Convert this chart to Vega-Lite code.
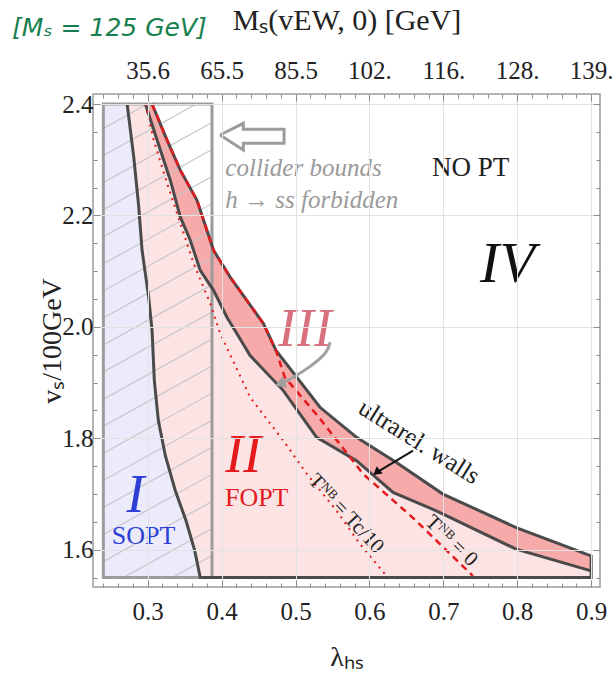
{
  "$schema": "https://vega.github.io/schema/vega-lite/v6.json",
  "width": 507,
  "height": 493,
  "autosize": "none",
  "padding": {"left": 93, "top": 94, "right": 15, "bottom": 92},
  "background": "white",
  "datasets": {
    "upperArea": [
      {"x": 0.24, "y": 2.4}, {"x": 0.3059, "y": 2.4}, {"x": 0.3262, "y": 2.3353}, {"x": 0.3441, "y": 2.2813},
      {"x": 0.3667, "y": 2.2273}, {"x": 0.3891, "y": 2.1374}, {"x": 0.4116, "y": 2.0894}, {"x": 0.4341, "y": 2.0475},
      {"x": 0.4565, "y": 2.0061}, {"x": 0.4736, "y": 1.9576}, {"x": 0.5331, "y": 1.8556}, {"x": 0.5826, "y": 1.8016},
      {"x": 0.6366, "y": 1.7566}, {"x": 0.6995, "y": 1.6998}, {"x": 0.7985, "y": 1.6397}, {"x": 0.8704, "y": 1.6038},
      {"x": 0.9, "y": 1.5888}
    ],
    "lowerArea": [
      {"x": 0.24, "y": 2.4}, {"x": 0.2969, "y": 2.4}, {"x": 0.3127, "y": 2.3353}, {"x": 0.3306, "y": 2.2633},
      {"x": 0.3441, "y": 2.1973}, {"x": 0.3576, "y": 2.1554}, {"x": 0.3711, "y": 2.1014}, {"x": 0.3891, "y": 2.0655},
      {"x": 0.4072, "y": 2.0174}, {"x": 0.4206, "y": 1.9881}, {"x": 0.4386, "y": 1.9486}, {"x": 0.4835, "y": 1.8856},
      {"x": 0.5286, "y": 1.8016}, {"x": 0.5826, "y": 1.7597}, {"x": 0.632, "y": 1.7027}, {"x": 0.6906, "y": 1.6698},
      {"x": 0.7985, "y": 1.6009}, {"x": 0.9, "y": 1.5619}
    ],
    "curveI": [
      {"x": 0.2722, "y": 2.4}, {"x": 0.2811, "y": 2.3052}, {"x": 0.2879, "y": 2.2153}, {"x": 0.2924, "y": 2.1374},
      {"x": 0.3013, "y": 2.0534}, {"x": 0.3059, "y": 1.9935}, {"x": 0.309, "y": 1.9036}, {"x": 0.3144, "y": 1.8317},
      {"x": 0.3239, "y": 1.7687}, {"x": 0.3374, "y": 1.7058}, {"x": 0.3519, "y": 1.6518}, {"x": 0.3637, "y": 1.5978},
      {"x": 0.3711, "y": 1.55}
    ],
    "outline": [
      {"o": 1, "x": 0.2722, "y": 2.4}, {"o": 2, "x": 0.2811, "y": 2.3052}, {"o": 3, "x": 0.2879, "y": 2.2153},
      {"o": 4, "x": 0.2924, "y": 2.1374}, {"o": 5, "x": 0.3013, "y": 2.0534}, {"o": 6, "x": 0.3059, "y": 1.9935},
      {"o": 7, "x": 0.309, "y": 1.9036}, {"o": 8, "x": 0.3144, "y": 1.8317}, {"o": 9, "x": 0.3239, "y": 1.7687},
      {"o": 10, "x": 0.3374, "y": 1.7058}, {"o": 11, "x": 0.3519, "y": 1.6518}, {"o": 12, "x": 0.3637, "y": 1.5978},
      {"o": 13, "x": 0.3711, "y": 1.55}, {"o": 14, "x": 0.9, "y": 1.55}, {"o": 15, "x": 0.9, "y": 1.5888},
      {"o": 16, "x": 0.8704, "y": 1.6038}, {"o": 17, "x": 0.7985, "y": 1.6397}, {"o": 18, "x": 0.6995, "y": 1.6998},
      {"o": 19, "x": 0.6366, "y": 1.7566}, {"o": 20, "x": 0.5826, "y": 1.8016}, {"o": 21, "x": 0.5331, "y": 1.8556},
      {"o": 22, "x": 0.4736, "y": 1.9576}, {"o": 23, "x": 0.4565, "y": 2.0061}, {"o": 24, "x": 0.4341, "y": 2.0475},
      {"o": 25, "x": 0.4116, "y": 2.0894}, {"o": 26, "x": 0.3891, "y": 2.1374}, {"o": 27, "x": 0.3667, "y": 2.2273},
      {"o": 28, "x": 0.3441, "y": 2.2813}, {"o": 29, "x": 0.3262, "y": 2.3353}, {"o": 30, "x": 0.3059, "y": 2.4}
    ],
    "dashed": [
      {"x": 0.3059, "y": 2.4}, {"x": 0.3262, "y": 2.3353}, {"x": 0.3441, "y": 2.2813}, {"x": 0.3667, "y": 2.2273},
      {"x": 0.3891, "y": 2.1374}, {"x": 0.4116, "y": 2.0894}, {"x": 0.4341, "y": 2.0475}, {"x": 0.4565, "y": 2.0061},
      {"x": 0.4736, "y": 1.9576}, {"x": 0.4855, "y": 1.9095}, {"x": 0.5331, "y": 1.8353}, {"x": 0.5915, "y": 1.7358},
      {"x": 0.6589, "y": 1.6572}, {"x": 0.74, "y": 1.5529}
    ],
    "dotted": [
      {"x": 0.2969, "y": 2.4}, {"x": 0.3081, "y": 2.3353}, {"x": 0.3262, "y": 2.2579}, {"x": 0.3441, "y": 2.186},
      {"x": 0.3621, "y": 2.114}, {"x": 0.3846, "y": 2.0421}, {"x": 0.3981, "y": 1.9881}, {"x": 0.4386, "y": 1.8736},
      {"x": 0.4835, "y": 1.7957}, {"x": 0.5151, "y": 1.7363}, {"x": 0.5556, "y": 1.6698}, {"x": 0.587, "y": 1.6104},
      {"x": 0.6231, "y": 1.5529}
    ],
    "hatch": [
      {"x": 0.3334, "y": 1.55, "x2": 0.387, "y2": 1.5894},
      {"x": 0.2672, "y": 1.55, "x2": 0.387, "y2": 1.638},
      {"x": 0.24, "y": 1.5786, "x2": 0.387, "y2": 1.6866},
      {"x": 0.24, "y": 1.6272, "x2": 0.387, "y2": 1.7352},
      {"x": 0.24, "y": 1.6758, "x2": 0.387, "y2": 1.7838},
      {"x": 0.24, "y": 1.7244, "x2": 0.387, "y2": 1.8324},
      {"x": 0.24, "y": 1.773, "x2": 0.387, "y2": 1.881},
      {"x": 0.24, "y": 1.8216, "x2": 0.387, "y2": 1.9296},
      {"x": 0.24, "y": 1.8702, "x2": 0.387, "y2": 1.9782},
      {"x": 0.24, "y": 1.9188, "x2": 0.387, "y2": 2.0268},
      {"x": 0.24, "y": 1.9674, "x2": 0.387, "y2": 2.0754},
      {"x": 0.24, "y": 2.016, "x2": 0.387, "y2": 2.124},
      {"x": 0.24, "y": 2.0646, "x2": 0.387, "y2": 2.1726},
      {"x": 0.24, "y": 2.1132, "x2": 0.387, "y2": 2.2212},
      {"x": 0.24, "y": 2.1618, "x2": 0.387, "y2": 2.2698},
      {"x": 0.24, "y": 2.2104, "x2": 0.387, "y2": 2.3184},
      {"x": 0.24, "y": 2.259, "x2": 0.387, "y2": 2.367},
      {"x": 0.24, "y": 2.3076, "x2": 0.3658, "y2": 2.4},
      {"x": 0.24, "y": 2.3562, "x2": 0.2996, "y2": 2.4}
    ],
    "bigArrow": [
      {"o": 1, "x": 0.3979, "y": 2.3444}, {"o": 2, "x": 0.4294, "y": 2.3654}, {"o": 3, "x": 0.4294, "y": 2.3546},
      {"o": 4, "x": 0.4845, "y": 2.3546}, {"o": 5, "x": 0.4845, "y": 2.3295}, {"o": 6, "x": 0.4294, "y": 2.3295},
      {"o": 7, "x": 0.4294, "y": 2.3175}, {"o": 8, "x": 0.3979, "y": 2.3444}
    ],
    "grayCurl": [
      {"o": 1, "x": 0.5466, "y": 1.9725}, {"o": 2, "x": 0.5439, "y": 1.9545}, {"o": 3, "x": 0.5196, "y": 1.9275},
      {"o": 4, "x": 0.497, "y": 1.9095}, {"o": 5, "x": 0.4835, "y": 1.9}
    ],
    "blackArrow": [
      {"o": 1, "x": 0.659, "y": 1.7777}, {"o": 2, "x": 0.614, "y": 1.742}
    ]
  },
  "layer": [
    {
      "data": {"name": "upperArea"},
      "mark": {"type": "area", "color": "#f7aaaa", "interpolate": "linear"},
      "encoding": {
        "x": {
          "field": "x", "type": "quantitative",
          "scale": {"domain": [0.226, 0.912], "nice": false, "zero": false},
          "axis": {
            "orient": "bottom", "zindex": 1,
            "values": [0.24,0.26,0.28,0.3,0.32,0.34,0.36,0.38,0.4,0.42,0.44,0.46,0.48,0.5,0.52,0.54,0.56,0.58,0.6,0.62,0.64,0.66,0.68,0.7,0.72,0.74,0.76,0.78,0.8,0.82,0.84,0.86,0.88,0.9],
            "labelExpr": "abs(datum.value*10-round(datum.value*10))<0.001 ? format(datum.value,'.1f') : ''",
            "tickSize": {"condition": {"test": "abs(datum.value*10-round(datum.value*10))<0.001", "value": -7}, "value": -4},
            "grid": true,
            "gridOpacity": {"condition": {"test": "abs(datum.value*10-round(datum.value*10))<0.001", "value": 1}, "value": 0},
            "labelPadding": 19,
            "title": "λₕₛ", "titlePadding": 16
          }
        },
        "y": {
          "field": "y", "type": "quantitative",
          "scale": {"domain": [1.533, 2.418], "nice": false, "zero": false},
          "axis": {
            "orient": "left", "zindex": 1,
            "values": [1.55,1.6,1.65,1.7,1.75,1.8,1.85,1.9,1.95,2.0,2.05,2.1,2.15,2.2,2.25,2.3,2.35,2.4],
            "labelExpr": "abs(datum.value*5-round(datum.value*5))<0.001 ? format(datum.value,'.1f') : ''",
            "tickSize": {"condition": {"test": "abs(datum.value*5-round(datum.value*5))<0.001", "value": -7}, "value": -4},
            "grid": true,
            "gridOpacity": {"condition": {"test": "abs(datum.value*5-round(datum.value*5))<0.001", "value": 1}, "value": 0},
            "labelPadding": 7,
            "title": "vₛ/100GeV", "titlePadding": -5
          }
        },
        "y2": {"datum": 1.55}
      }
    },
    {
      "data": {"name": "lowerArea"},
      "mark": {"type": "area", "color": "#fde4e4", "interpolate": "linear"},
      "encoding": {
        "x": {
          "field": "x", "type": "quantitative",
          "scale": {"domain": [0.226, 0.912], "nice": false, "zero": false},
          "axis": {
            "orient": "top", "zindex": 1,
            "values": [0.24,0.26,0.28,0.3,0.32,0.34,0.36,0.38,0.4,0.42,0.44,0.46,0.48,0.5,0.52,0.54,0.56,0.58,0.6,0.62,0.64,0.66,0.68,0.7,0.72,0.74,0.76,0.78,0.8,0.82,0.84,0.86,0.88,0.9],
            "labelExpr": "abs(datum.value*10-round(datum.value*10))<0.001 ? ['','','','35.6','65.5','85.5','102.','116.','128.','139.'][round(datum.value*10)] : ''",
            "tickSize": {"condition": {"test": "abs(datum.value*10-round(datum.value*10))<0.001", "value": -7}, "value": -4},
            "grid": false,
            "labelPadding": 18,
            "title": "Mₛ(vEW, 0) [GeV]", "titlePadding": 20, "titleFontSize": 30
          }
        },
        "y": {
          "field": "y", "type": "quantitative",
          "scale": {"domain": [1.533, 2.418], "nice": false, "zero": false},
          "axis": {
            "orient": "right", "zindex": 1,
            "values": [1.55,1.6,1.65,1.7,1.75,1.8,1.85,1.9,1.95,2.0,2.05,2.1,2.15,2.2,2.25,2.3,2.35,2.4],
            "labels": false,
            "tickSize": {"condition": {"test": "abs(datum.value*5-round(datum.value*5))<0.001", "value": -7}, "value": -4},
            "grid": false,
            "title": null
          }
        },
        "y2": {"datum": 1.55}
      }
    },
    {
      "data": {"name": "curveI"},
      "mark": {"type": "area", "orient": "horizontal", "color": "#ebebfb", "interpolate": "linear"},
      "encoding": {
        "y": {"field": "y", "type": "quantitative", "axis": null},
        "x": {"field": "x", "type": "quantitative", "axis": null},
        "x2": {"datum": 0.24}
      }
    },
    {
      "data": {"name": "hatch"},
      "mark": {"type": "rule", "color": "#c4c4c4", "strokeWidth": 1.1},
      "encoding": {
        "x": {"field": "x", "type": "quantitative", "axis": null},
        "y": {"field": "y", "type": "quantitative", "axis": null},
        "x2": {"field": "x2"},
        "y2": {"field": "y2"}
      }
    },
    {
      "data": {"values": [{"x": 0.24, "x2": 0.387, "y": 1.55, "y2": 2.4}]},
      "mark": {"type": "rect", "fill": null, "fillOpacity": 0, "stroke": "#9c9c9c", "strokeWidth": 3},
      "encoding": {
        "x": {"field": "x", "type": "quantitative", "axis": null},
        "x2": {"field": "x2"},
        "y": {"field": "y", "type": "quantitative", "axis": null},
        "y2": {"field": "y2"}
      }
    },
    {
      "data": {"name": "outline"},
      "mark": {"type": "line", "color": "#4a4a4a", "strokeWidth": 3, "strokeJoin": "miter"},
      "encoding": {
        "x": {"field": "x", "type": "quantitative", "axis": null},
        "y": {"field": "y", "type": "quantitative", "axis": null},
        "order": {"field": "o"}
      }
    },
    {
      "data": {"name": "lowerArea"},
      "transform": [{"filter": "datum.x > 0.25"}],
      "mark": {"type": "line", "color": "#4a4a4a", "strokeWidth": 3},
      "encoding": {
        "x": {"field": "x", "type": "quantitative", "axis": null},
        "y": {"field": "y", "type": "quantitative", "axis": null}
      }
    },
    {
      "data": {"name": "dashed"},
      "mark": {"type": "line", "color": "#e41a1c", "strokeWidth": 2.5, "strokeDash": [7, 5]},
      "encoding": {
        "x": {"field": "x", "type": "quantitative", "axis": null},
        "y": {"field": "y", "type": "quantitative", "axis": null}
      }
    },
    {
      "data": {"name": "dotted"},
      "mark": {"type": "line", "color": "#e41a1c", "strokeWidth": 2, "strokeDash": [2, 5]},
      "encoding": {
        "x": {"field": "x", "type": "quantitative", "axis": null},
        "y": {"field": "y", "type": "quantitative", "axis": null}
      }
    },
    {
      "data": {"name": "bigArrow"},
      "mark": {"type": "line", "color": "#9c9c9c", "strokeWidth": 3, "strokeJoin": "miter"},
      "encoding": {
        "x": {"field": "x", "type": "quantitative", "axis": null},
        "y": {"field": "y", "type": "quantitative", "axis": null},
        "order": {"field": "o"}
      }
    },
    {
      "data": {"name": "grayCurl"},
      "mark": {"type": "line", "color": "#a0a0a0", "strokeWidth": 3, "interpolate": "basis"},
      "encoding": {
        "x": {"field": "x", "type": "quantitative", "axis": null},
        "y": {"field": "y", "type": "quantitative", "axis": null},
        "order": {"field": "o"}
      }
    },
    {
      "data": {"values": [{"x": 0.4791, "y": 1.8977}]},
      "mark": {"type": "point", "shape": "triangle-up", "filled": true, "color": "#a0a0a0", "size": 150, "angle": 250, "opacity": 1},
      "encoding": {
        "x": {"field": "x", "type": "quantitative", "axis": null},
        "y": {"field": "y", "type": "quantitative", "axis": null}
      }
    },
    {
      "data": {"name": "blackArrow"},
      "mark": {"type": "line", "color": "#111", "strokeWidth": 2},
      "encoding": {
        "x": {"field": "x", "type": "quantitative", "axis": null},
        "y": {"field": "y", "type": "quantitative", "axis": null},
        "order": {"field": "o"}
      }
    },
    {
      "data": {"values": [{"x": 0.6096, "y": 1.7387}]},
      "mark": {"type": "point", "shape": "triangle-up", "filled": true, "color": "#111", "size": 90, "angle": 231, "opacity": 1},
      "encoding": {
        "x": {"field": "x", "type": "quantitative", "axis": null},
        "y": {"field": "y", "type": "quantitative", "axis": null}
      }
    },
    {
      "data": {"values": [{"x": 0.2834, "y": 1.6968, "t": "I"}]},
      "mark": {"type": "text", "font": "Liberation Serif", "fontStyle": "italic", "fontSize": 54, "color": "#2b3fd6", "baseline": "middle"},
      "encoding": {
        "x": {"field": "x", "type": "quantitative", "axis": null},
        "y": {"field": "y", "type": "quantitative", "axis": null},
        "text": {"field": "t"}
      }
    },
    {
      "data": {"values": [{"x": 0.2943, "y": 1.6248, "t": "SOPT"}]},
      "mark": {"type": "text", "font": "Liberation Serif", "fontSize": 26, "color": "#2b3fd6", "baseline": "middle"},
      "encoding": {
        "x": {"field": "x", "type": "quantitative", "axis": null},
        "y": {"field": "y", "type": "quantitative", "axis": null},
        "text": {"field": "t"}
      }
    },
    {
      "data": {"values": [{"x": 0.4294, "y": 1.7687, "t": "II"}]},
      "mark": {"type": "text", "font": "Liberation Serif", "fontStyle": "italic", "fontSize": 54, "color": "#e41a1c", "baseline": "middle"},
      "encoding": {
        "x": {"field": "x", "type": "quantitative", "axis": null},
        "y": {"field": "y", "type": "quantitative", "axis": null},
        "text": {"field": "t"}
      }
    },
    {
      "data": {"values": [{"x": 0.4475, "y": 1.6932, "t": "FOPT"}]},
      "mark": {"type": "text", "font": "Liberation Serif", "fontSize": 26, "color": "#e41a1c", "baseline": "middle"},
      "encoding": {
        "x": {"field": "x", "type": "quantitative", "axis": null},
        "y": {"field": "y", "type": "quantitative", "axis": null},
        "text": {"field": "t"}
      }
    },
    {
      "data": {"values": [{"x": 0.5128, "y": 1.9935, "t": "III"}]},
      "mark": {"type": "text", "font": "Liberation Serif", "fontStyle": "italic", "fontSize": 54, "color": "#d9707e", "baseline": "middle"},
      "encoding": {
        "x": {"field": "x", "type": "quantitative", "axis": null},
        "y": {"field": "y", "type": "quantitative", "axis": null},
        "text": {"field": "t"}
      }
    },
    {
      "data": {"values": [{"x": 0.7868, "y": 2.1104, "t": "IV"}]},
      "mark": {"type": "text", "font": "Liberation Serif", "fontStyle": "italic", "fontSize": 58, "color": "#111", "baseline": "middle"},
      "encoding": {
        "x": {"field": "x", "type": "quantitative", "axis": null},
        "y": {"field": "y", "type": "quantitative", "axis": null},
        "text": {"field": "t"}
      }
    },
    {
      "data": {"values": [{"x": 0.7368, "y": 2.2849, "t": "NO PT"}]},
      "mark": {"type": "text", "font": "Liberation Serif", "fontSize": 27, "color": "#222", "baseline": "middle"},
      "encoding": {
        "x": {"field": "x", "type": "quantitative", "axis": null},
        "y": {"field": "y", "type": "quantitative", "axis": null},
        "text": {"field": "t"}
      }
    },
    {
      "data": {"values": [{"x": 0.4051, "y": 2.2849, "t": "collider bounds"}, {"x": 0.4051, "y": 2.2273, "t": "h → ss forbidden"}]},
      "mark": {"type": "text", "font": "Liberation Serif", "fontStyle": "italic", "fontSize": 25, "color": "#9a9a9a", "align": "left", "baseline": "middle"},
      "encoding": {
        "x": {"field": "x", "type": "quantitative", "axis": null},
        "y": {"field": "y", "type": "quantitative", "axis": null},
        "text": {"field": "t"}
      }
    },
    {
      "data": {"values": [{"x": 0.6673, "y": 1.7937, "t": "ultrarel.  walls"}]},
      "mark": {"type": "text", "font": "Liberation Serif", "fontSize": 25, "color": "#222", "baseline": "middle", "angle": 32},
      "encoding": {
        "x": {"field": "x", "type": "quantitative", "axis": null},
        "y": {"field": "y", "type": "quantitative", "axis": null},
        "text": {"field": "t"}
      }
    },
    {
      "data": {"values": [{"x": 0.5683, "y": 1.6644, "t": "Tᴺᴮ = Tc/10"}]},
      "mark": {"type": "text", "font": "Liberation Serif", "fontSize": 21, "color": "#222", "baseline": "middle", "angle": 47},
      "encoding": {
        "x": {"field": "x", "type": "quantitative", "axis": null},
        "y": {"field": "y", "type": "quantitative", "axis": null},
        "text": {"field": "t"}
      }
    },
    {
      "data": {"values": [{"x": 0.7108, "y": 1.6158, "t": "Tᴺᴮ = 0"}]},
      "mark": {"type": "text", "font": "Liberation Serif", "fontSize": 21, "color": "#222", "baseline": "middle", "angle": 44},
      "encoding": {
        "x": {"field": "x", "type": "quantitative", "axis": null},
        "y": {"field": "y", "type": "quantitative", "axis": null},
        "text": {"field": "t"}
      }
    },
    {
      "data": {"values": [{"x": 0.1164, "y": 2.5365, "t": "[Mₛ = 125 GeV]"}]},
      "mark": {"type": "text", "font": "DejaVu Sans", "fontStyle": "italic", "fontSize": 25, "color": "#17804f", "align": "left", "baseline": "middle"},
      "encoding": {
        "x": {"field": "x", "type": "quantitative", "axis": null},
        "y": {"field": "y", "type": "quantitative", "axis": null},
        "text": {"field": "t"}
      }
    }
  ],
  "resolve": {"axis": {"x": "independent", "y": "independent"}},
  "config": {
    "view": {"stroke": "#9c9c9c", "strokeWidth": 1.5},
    "axis": {
      "labelFont": "Liberation Serif", "labelFontSize": 25, "labelColor": "#222",
      "titleFont": "Liberation Serif", "titleFontSize": 28, "titleFontWeight": "normal", "titleColor": "#222",
      "domain": false, "tickColor": "#8a8a8a", "tickWidth": 1, "gridColor": "#e2e2e2", "gridWidth": 1,
      "labelOverlap": false, "labelFlush": false
    }
  }
}
